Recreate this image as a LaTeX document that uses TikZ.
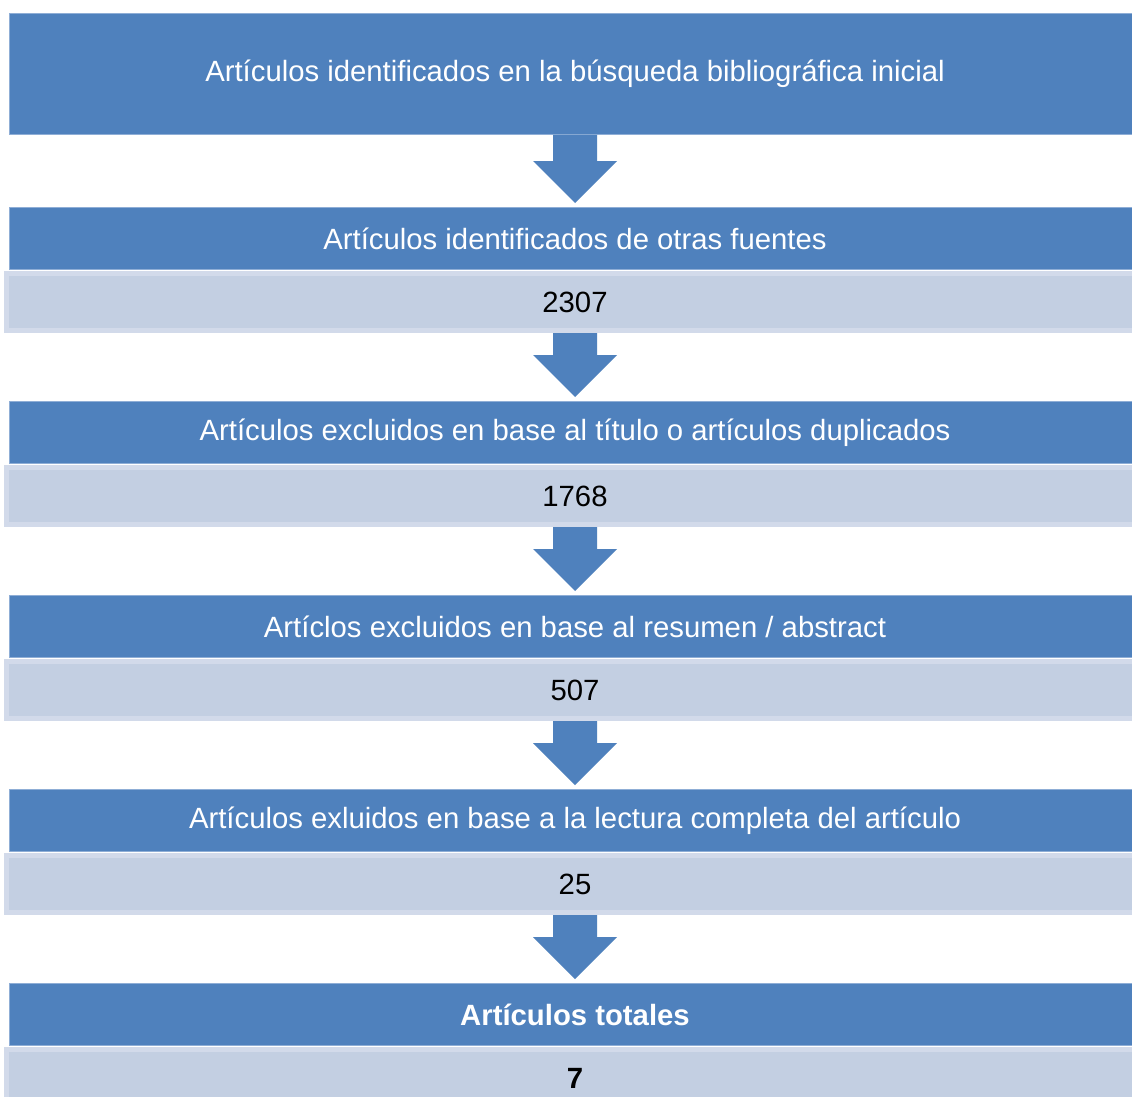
\documentclass[tikz,border=0pt]{standalone}
\usepackage{fontspec}
\setmainfont{Liberation Sans}
\usetikzlibrary{positioning,calc}

\definecolor{stageblue}{HTML}{4F81BD}
\definecolor{stageedge}{HTML}{8FAED6}
\definecolor{countfill}{HTML}{C3CFE2}
\definecolor{countedge}{HTML}{D2DAEA}

% block arrow from the bottom of one box down to the top of the next
\newcommand{\flowarrow}[2]{%
    \fill[stageblue] ($(#1.south)+(-22,0)$)
        -- ($(#2.north)+(-22,46)$)
        -- ($(#2.north)+(-42,46)$)
        -- ($(#2.north)+(0,4)$)
        -- ($(#2.north)+(42,46)$)
        -- ($(#2.north)+(22,46)$)
        -- ($(#1.south)+(22,0)$)
        -- cycle;
}

\begin{document}
\begin{tikzpicture}[
        x=1pt, y=1pt,
        stage/.style={fill=stageblue, draw=stageedge, line width=1pt,
            text=white, minimum width=1131pt, minimum height=62pt,
            inner sep=0pt, font=\fontsize{29.3}{35}\selectfont},
        count/.style={fill=countfill, draw=countedge, line width=5pt,
            text=black, minimum width=1137pt, minimum height=57pt,
            inner sep=0pt, font=\fontsize{29.3}{35}\selectfont}
    ]
    \clip (0,0) rectangle (1132,-1097);
    \fill[white] (0,0) rectangle (1132,-1097);

    \node [stage, minimum height=121pt] (s0) at (575,-74)
        {Artículos identificados en la búsqueda bibliográfica inicial};

    \node [stage, below=72pt of s0] (s1) {Artículos identificados de otras fuentes};
    \node [count, below=1pt of s1] (c1) {2307};

    \node [stage, below=68pt of c1] (s2) {Artículos excluidos en base al título o artículos duplicados};
    \node [count, below=1pt of s2] (c2) {1768};

    \node [stage, below=68pt of c2] (s3) {Artíclos excluidos en base al resumen / abstract};
    \node [count, below=1pt of s3] (c3) {507};

    \node [stage, below=68pt of c3] (s4) {Artículos exluidos en base a la lectura completa del artículo};
    \node [count, below=1pt of s4] (c4) {25};

    \node [stage, below=68pt of c4] (s5) {\bfseries Artículos totales};
    \node [count, below=1pt of s5] (c5) {\bfseries 7};

    \flowarrow{s0}{s1}
    \flowarrow{c1}{s2}
    \flowarrow{c2}{s3}
    \flowarrow{c3}{s4}
    \flowarrow{c4}{s5}
\end{tikzpicture}
\end{document}
